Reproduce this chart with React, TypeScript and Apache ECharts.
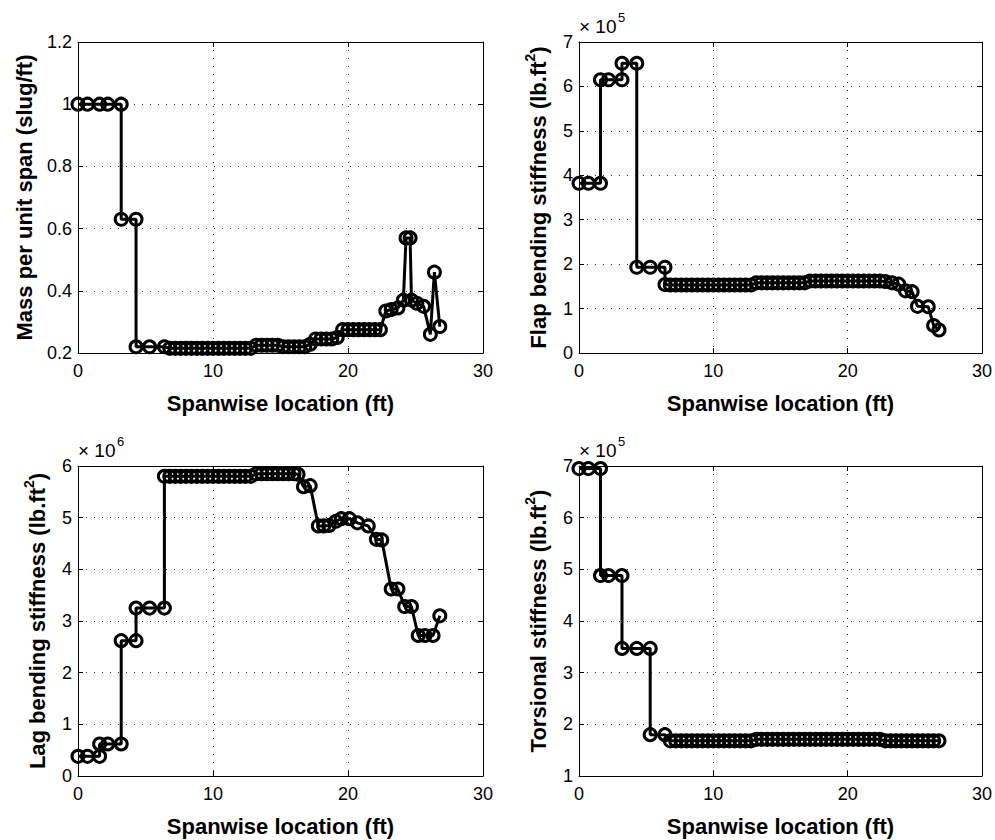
import React, { useEffect, useRef } from 'react';
import * as echarts from 'echarts';

// ---------- data ----------
const xTickValues = [0, 10, 20, 30];

// Mass per unit span (slug/ft)
const massX = [0, 0.7, 1.6, 2.2, 3.2, 3.2, 4.3, 4.3, 5.3, 6.4,
  6.8, 7.2, 7.6, 8.0, 8.4, 8.8, 9.2, 9.6, 10.0, 10.4, 10.8, 11.2, 11.6, 12.0, 12.4, 12.8,
  13.2, 13.6, 14.0, 14.4, 14.8, 15.2, 15.6, 16.0, 16.4, 16.8,
  17.2, 17.6, 18.0, 18.4, 18.8, 19.2, 19.6, 20.0, 20.4, 20.8, 21.2, 21.6, 22.0, 22.4,
  22.8, 23.2, 23.7, 24.1, 24.3, 24.6, 24.7, 25.1, 25.6, 26.1, 26.4, 26.8];
const massY = [1.0, 1.0, 1.0, 1.0, 1.0, 0.63, 0.63, 0.22, 0.22, 0.22,
  0.215, 0.215, 0.215, 0.215, 0.215, 0.215, 0.215, 0.215, 0.215, 0.215, 0.215, 0.215, 0.215, 0.215, 0.215, 0.215,
  0.225, 0.225, 0.225, 0.225, 0.225, 0.22, 0.22, 0.22, 0.22, 0.22,
  0.228, 0.245, 0.245, 0.245, 0.245, 0.25, 0.275, 0.275, 0.275, 0.275, 0.275, 0.275, 0.275, 0.275,
  0.335, 0.34, 0.345, 0.37, 0.57, 0.57, 0.37, 0.36, 0.35, 0.26, 0.46, 0.285];

// Flap bending stiffness (x 10^5 lb.ft^2)
const flapX = [0, 0.7, 1.6, 1.6, 2.2, 3.2, 3.2, 4.3, 4.3, 5.3, 6.4, 6.4,
  6.8, 7.2, 7.6, 8.0, 8.4, 8.8, 9.2, 9.6, 10.0, 10.4, 10.8, 11.2, 11.6, 12.0, 12.4, 12.8,
  13.2, 13.6, 14.0, 14.4, 14.8, 15.2, 15.6, 16.0, 16.4, 16.8,
  17.2, 17.6, 18.0, 18.4, 18.8, 19.2, 19.6, 20.0, 20.4, 20.8, 21.2, 21.6, 22.0, 22.4,
  22.8, 23.3, 23.8, 24.3, 24.8, 25.2, 26.0, 26.4, 26.8];
const flapY = [3.82, 3.82, 3.82, 6.15, 6.15, 6.15, 6.52, 6.52, 1.93, 1.93, 1.93, 1.54,
  1.53, 1.53, 1.53, 1.53, 1.53, 1.53, 1.53, 1.53, 1.53, 1.53, 1.53, 1.53, 1.53, 1.53, 1.53, 1.53,
  1.58, 1.58, 1.58, 1.58, 1.58, 1.58, 1.58, 1.58, 1.58, 1.58,
  1.62, 1.62, 1.62, 1.62, 1.62, 1.62, 1.62, 1.62, 1.62, 1.62, 1.62, 1.62, 1.62, 1.62,
  1.61, 1.58, 1.55, 1.4, 1.38, 1.05, 1.04, 0.62, 0.52];

// Lag bending stiffness (x 10^6 lb.ft^2)
const lagX = [0, 0.7, 1.6, 1.6, 2.2, 3.2, 3.2, 4.3, 4.3, 5.3, 6.4, 6.4,
  6.8, 7.2, 7.6, 8.0, 8.4, 8.8, 9.2, 9.6, 10.0, 10.4, 10.8, 11.2, 11.6, 12.0, 12.4, 12.8,
  13.2, 13.6, 14.0, 14.4, 14.8, 15.2, 15.6, 16.0,
  16.3, 16.7, 17.2, 17.8, 18.2, 18.6, 19.1, 19.5, 20.1, 20.7, 21.5, 22.1, 22.5,
  23.2, 23.7, 24.2, 24.7, 25.2, 25.7, 26.3, 26.8];
const lagY = [0.38, 0.38, 0.38, 0.62, 0.62, 0.62, 2.62, 2.62, 3.25, 3.25, 3.25, 5.8,
  5.8, 5.8, 5.8, 5.8, 5.8, 5.8, 5.8, 5.8, 5.8, 5.8, 5.8, 5.8, 5.8, 5.8, 5.8, 5.8,
  5.85, 5.85, 5.85, 5.85, 5.85, 5.85, 5.85, 5.85,
  5.84, 5.6, 5.62, 4.84, 4.84, 4.85, 4.93, 4.98, 4.98, 4.9, 4.84, 4.58, 4.57,
  3.62, 3.62, 3.28, 3.28, 2.72, 2.72, 2.72, 3.1];

// Torsional stiffness (x 10^5 lb.ft^2)
const torX = [0, 0.7, 1.6, 1.6, 2.2, 3.2, 3.2, 4.3, 5.3, 5.3, 6.4,
  6.8, 7.2, 7.6, 8.0, 8.4, 8.8, 9.2, 9.6, 10.0, 10.4, 10.8, 11.2, 11.6, 12.0, 12.4, 12.8,
  13.2, 13.6, 14.0, 14.4, 14.8, 15.2, 15.6, 16.0, 16.4, 16.8, 17.2, 17.6,
  18.0, 18.4, 18.8, 19.2, 19.6, 20.0, 20.4, 20.8, 21.2, 21.6, 22.0, 22.4,
  22.8, 23.2, 23.6, 24.0, 24.4, 24.8, 25.2, 25.6, 26.0, 26.4, 26.8];
const torY = [6.95, 6.95, 6.95, 4.88, 4.88, 4.88, 3.47, 3.47, 3.47, 1.8, 1.8,
  1.68, 1.68, 1.68, 1.68, 1.68, 1.68, 1.68, 1.68, 1.68, 1.68, 1.68, 1.68, 1.68, 1.68, 1.68, 1.68,
  1.71, 1.71, 1.71, 1.71, 1.71, 1.71, 1.71, 1.71, 1.71, 1.71, 1.71, 1.71,
  1.71, 1.71, 1.71, 1.71, 1.71, 1.71, 1.71, 1.71, 1.71, 1.71, 1.71, 1.71,
  1.68, 1.68, 1.68, 1.68, 1.68, 1.68, 1.68, 1.68, 1.68, 1.68, 1.68];

const xLabel = 'Spanwise location (ft)';
const yNames = [
  '{b|Mass per unit span (slug/ft)}',
  '{b|Flap bending stiffness (lb.ft}{s|2}{b|)}',
  '{b|Lag bending stiffness (lb.ft}{s|2}{b|)}',
  '{b|Torsional stiffness (lb.ft}{s|2}{b|)}',
];
const yRanges = [
  { min: 0.2, max: 1.2, interval: 0.2 },
  { min: 0, max: 7, interval: 1 },
  { min: 0, max: 6, interval: 1 },
  { min: 1, max: 7, interval: 1 },
];
const multipliers = ['', '5', '6', '5'];

// ---------- layout ----------
const FONT = '"Liberation Sans", Arial, Helvetica, sans-serif';
const GRIDS = [
  { left: 78, top: 42, width: 405, height: 311 },
  { left: 579, top: 42, width: 405, height: 311 },
  { left: 78, top: 466, width: 405, height: 310 },
  { left: 579, top: 466, width: 405, height: 310 },
];
const NAME_GAPS = [39, 26, 26, 26];

export default function App() {
  const ref = useRef<HTMLDivElement>(null);

  useEffect(() => {
    document.body.style.margin = '0';
    if (!ref.current) return;
    const chart = echarts.init(ref.current, null, { renderer: 'svg' });

    const seriesData = [
      [massX, massY],
      [flapX, flapY],
      [lagX, lagY],
      [torX, torY],
    ];

    const tick = { show: true, inside: true, length: 5, lineStyle: { color: '#000', width: 1 } };
    const axisLine = { show: true, onZero: false, lineStyle: { color: '#000', width: 1 } };
    const split = { show: true, lineStyle: { color: '#333', width: 1, type: [1, 7] as any } };

    const xAxis: any[] = [];
    const yAxis: any[] = [];
    GRIDS.forEach((_, i) => {
      xAxis.push({
        type: 'value', gridIndex: i, min: 0, max: 30, interval: 10, position: 'bottom',
        axisLine, axisTick: tick, splitLine: split,
        axisLabel: {
          show: true, margin: 9, color: '#000', fontFamily: FONT, fontSize: 18,
          formatter: (v: number) => (xTickValues.includes(v) ? String(v) : ''),
        },
        name: xLabel, nameLocation: 'middle', nameGap: 39,
        nameTextStyle: { fontFamily: FONT, fontSize: 22, fontWeight: 'bold', color: '#000' },
      });
      xAxis.push({
        type: 'value', gridIndex: i, min: 0, max: 30, interval: 10, position: 'top',
        axisLine, axisTick: tick, splitLine: { show: false }, axisLabel: { show: false },
      });
      const r = yRanges[i];
      yAxis.push({
        type: 'value', gridIndex: i, min: r.min, max: r.max, interval: r.interval, position: 'left',
        axisLine, axisTick: tick, splitLine: split,
        axisLabel: {
          show: true, margin: 6, color: '#000', fontFamily: FONT, fontSize: 18,
          formatter: (v: number) => String(Math.round(v * 10) / 10),
        },
        name: yNames[i], nameLocation: 'middle', nameGap: NAME_GAPS[i],
        nameTextStyle: {
          color: '#000',
          rich: {
            b: { fontFamily: FONT, fontSize: 22, fontWeight: 'bold', color: '#000', lineHeight: 30 },
            s: { fontFamily: FONT, fontSize: 14, fontWeight: 'bold', color: '#000', lineHeight: 14, verticalAlign: 'top' },
          },
        },
      });
      yAxis.push({
        type: 'value', gridIndex: i, min: r.min, max: r.max, interval: r.interval, position: 'right',
        axisLine, axisTick: tick, splitLine: { show: false }, axisLabel: { show: false },
      });
    });

    const series = seriesData.map(([xs, ys], i) => ({
      type: 'line',
      xAxisIndex: i * 2,
      yAxisIndex: i * 2,
      data: xs.map((x, j) => [x, ys[j]]),
      symbol: 'circle',
      symbolSize: 12,
      showSymbol: true,
      showAllSymbol: true,
      clip: false,
      lineStyle: { color: '#000', width: 3 },
      itemStyle: { color: 'rgba(0,0,0,0)', borderColor: '#000', borderWidth: 3 },
      emphasis: { disabled: true },
      z: 3,
    }));

    const graphic: any[] = [];
    multipliers.forEach((m, i) => {
      if (!m) return;
      const g = GRIDS[i];
      const cy = g.top - 16;
      graphic.push({
        type: 'text', x: g.left, y: cy,
        style: { text: '× 10', fontFamily: FONT, fontSize: 19, fill: '#000', align: 'left', verticalAlign: 'middle' },
      });
      graphic.push({
        type: 'text', x: g.left + 39, y: cy - 9,
        style: { text: m, fontFamily: FONT, fontSize: 13, fill: '#000', align: 'left', verticalAlign: 'middle' },
      });
    });

    chart.setOption({
      animation: false,
      backgroundColor: '#fff',
      grid: GRIDS.map((g) => ({ ...g, containLabel: false })),
      xAxis,
      yAxis,
      series,
      graphic,
    });

    return () => chart.dispose();
  }, []);

  return <div ref={ref} style={{ width: 995, height: 840 }} />;
}
